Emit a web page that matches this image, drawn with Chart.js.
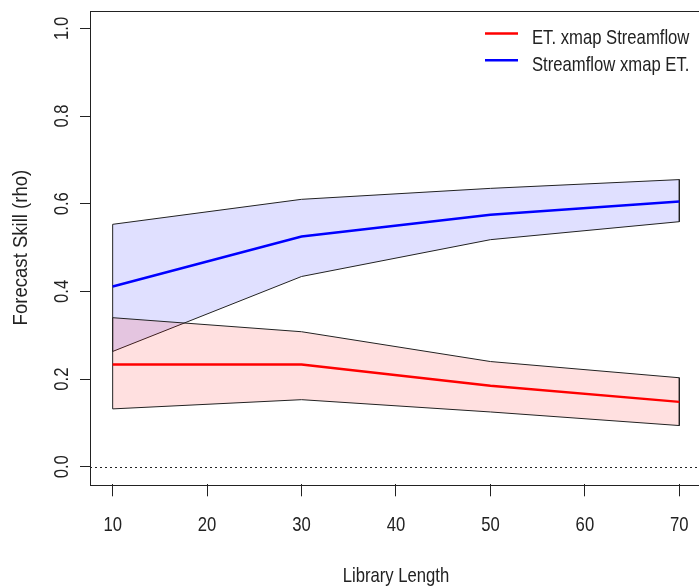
<!DOCTYPE html>
<html>
<head>
<meta charset="utf-8">
<title>Forecast Skill vs Library Length</title>
<script src="https://cdn.jsdelivr.net/npm/chart.js@4.4.1/dist/chart.umd.min.js"></script>
<style>
  html, body { margin: 0; padding: 0; background: #fff; overflow: hidden; }
  canvas { display: block; }
</style>
</head>
<body>
<canvas id="skillChart" width="704" height="587"></canvas>
<script>
// library sizes (x) and rho values
const libSizes = [10, 30, 50, 70];
const etMean  = [0.233, 0.233, 0.185, 0.148];
const etUpper = [0.340, 0.308, 0.240, 0.203];
const etLower = [0.132, 0.153, 0.125, 0.094];
const sfMean  = [0.411, 0.525, 0.575, 0.605];
const sfUpper = [0.553, 0.610, 0.635, 0.655];
const sfLower = [0.263, 0.434, 0.518, 0.559];
const xTicks = [10, 20, 30, 40, 50, 60, 70];
const yTicks = [0, 0.2, 0.4, 0.6, 0.8, 1.0];
const seriesNames = ['ET. xmap Streamflow', 'Streamflow xmap ET.'];
const xTitle = 'Library Length';
const yTitle = 'Forecast Skill (rho)';

const FONT = "'Liberation Sans', Arial, sans-serif";
const FSIZE = 20.4;
const NARROW = 0.817;   // the figure uses a condensed face, squeeze Liberation Sans to match
const INK = '#222';

function line(ys){ return libSizes.map((x, i) => ({x: x, y: ys[i]})); }
// closed polygon: along the upper bound, back along the lower bound
function band(upper, lower){
  const pts = line(upper);
  for(let i = libSizes.length - 1; i >= 0; i--) pts.push({x: libSizes[i], y: lower[i]});
  pts.push(pts[0]);
  return pts;
}

// text at baseline (x,y), optionally rotated, squeezed along its run
function narrowText(ctx, txt, x, y, align, rot, squeeze){
  ctx.save();
  ctx.translate(x, y);
  if(rot) ctx.rotate(rot);
  ctx.scale(squeeze || NARROW, 1);
  ctx.textAlign = align;
  ctx.textBaseline = 'alphabetic';
  ctx.fillText(txt, 0, 0);
  ctx.restore();
}

// R style extras: box, dotted zero line, labels, legend
const rStyle = {
  id: 'rStyle',
  beforeDatasetsDraw(chart){
    const {ctx, chartArea: a, scales: {y}} = chart;
    const y0 = Math.round(y.getPixelForValue(0)) + 0.5;
    ctx.save();
    ctx.strokeStyle = INK;
    ctx.lineWidth = 1;
    ctx.setLineDash([2, 3]);
    ctx.beginPath();
    ctx.moveTo(a.left, y0);
    ctx.lineTo(a.right, y0);
    ctx.stroke();
    ctx.restore();
  },
  afterDraw(chart){
    const {ctx, chartArea: a, scales: {x, y}} = chart;
    ctx.save();
    ctx.strokeStyle = INK;
    ctx.lineWidth = 1;
    ctx.strokeRect(Math.round(a.left) + 0.5, Math.round(a.top) + 0.5,
                   Math.round(a.right - a.left), Math.round(a.bottom - a.top));

    ctx.fillStyle = INK;
    ctx.font = FSIZE + 'px ' + FONT;

    // tick labels
    x.ticks.forEach(t => narrowText(ctx, String(t.value), x.getPixelForValue(t.value), 530.7, 'center'));
    y.ticks.forEach(t => narrowText(ctx, t.value.toFixed(1), 68.3, y.getPixelForValue(t.value), 'center', -Math.PI / 2));

    // axis titles
    narrowText(ctx, xTitle, (a.left + a.right) / 2, 582, 'center');
    narrowText(ctx, yTitle, 27.3, (a.top + a.bottom) / 2, 'center', -Math.PI / 2, 0.91);

    // legend (top right, no box)
    const means = chart.data.datasets.filter(d => d.isMean);
    means.forEach((d, i) => {
      const ly = 33.5 + i * 26.7;
      ctx.strokeStyle = d.borderColor;
      ctx.lineWidth = 2.5;
      ctx.beginPath();
      ctx.moveTo(485, ly);
      ctx.lineTo(518, ly);
      ctx.stroke();
      narrowText(ctx, d.label, 532, ly + 10.7, 'left');
    });
    ctx.restore();
  }
};

const ctx = document.getElementById('skillChart').getContext('2d');
new Chart(ctx, {
  type: 'scatter',
  data: {
    datasets: [
      { label: 'sf band', data: band(sfUpper, sfLower), showLine: true, fill: 'shape',
        backgroundColor: 'rgba(0,0,255,0.12)', borderColor: INK, borderWidth: 1,
        pointRadius: 0, order: 4 },
      { label: 'et band', data: band(etUpper, etLower), showLine: true, fill: 'shape',
        backgroundColor: 'rgba(255,0,0,0.12)', borderColor: INK, borderWidth: 1,
        pointRadius: 0, order: 3 },
      { label: seriesNames[0], isMean: true, data: line(etMean), showLine: true,
        borderColor: '#ff0000', borderWidth: 2.5, pointRadius: 0, order: 1 },
      { label: seriesNames[1], isMean: true, data: line(sfMean), showLine: true,
        borderColor: '#0000ff', borderWidth: 2.5, pointRadius: 0, order: 2 }
    ]
  },
  options: {
    responsive: false,
    animation: false,
    devicePixelRatio: 1,
    layout: { padding: { top: 10.8, right: 2, left: 0, bottom: 0 } },
    plugins: { legend: { display: false }, tooltip: { enabled: false } },
    scales: {
      x: {
        type: 'linear', position: 'bottom', min: 7.6, max: 72.4,
        afterBuildTicks: s => { s.ticks = xTicks.map(v => ({value: v})); },
        afterFit: s => { s.height = 102.7; },
        border: { display: false },
        grid: { drawOnChartArea: false, drawTicks: true, tickLength: 12, color: INK },
        ticks: { display: false }
      },
      y: {
        type: 'linear', min: -0.04, max: 1.04,
        afterBuildTicks: s => { s.ticks = yTicks.map(v => ({value: v})); },
        afterFit: s => { s.width = 90; },
        border: { display: false },
        grid: { drawOnChartArea: false, drawTicks: true, tickLength: 10, color: INK },
        ticks: { display: false }
      }
    }
  },
  plugins: [rStyle]
});
</script>
</body>
</html>
